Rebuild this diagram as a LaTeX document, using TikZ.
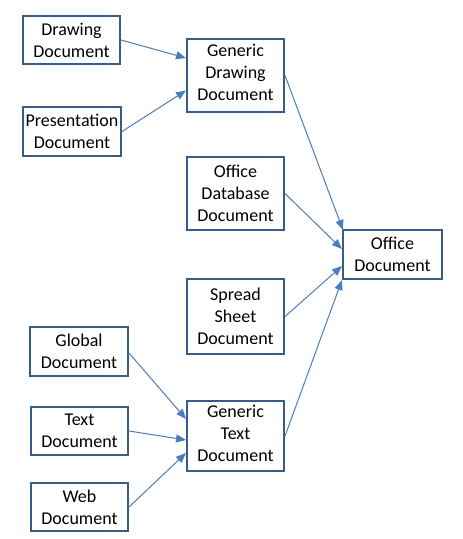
\documentclass[tikz,border=0pt]{standalone}
\usepackage{fontspec}
\setmainfont{Carlito}
\usetikzlibrary{arrows.meta}
\definecolor{boxline}{HTML}{385D8A}
\definecolor{arrline}{HTML}{4A7EBB}
\begin{document}
\begin{tikzpicture}[x=1bp,y=-1bp,
  doc/.style={draw=boxline,line width=2bp,rectangle,inner sep=0pt,align=center,
    font=\fontsize{18bp}{22bp}\selectfont,text=black},
  link/.style={draw=arrline,line width=1bp,-{Triangle[length=10bp,width=8bp]}}]
\fill[white] (0,0) rectangle (463,539);
\useasboundingbox (0,0) rectangle (463,539);
\node[doc,minimum width=97bp,minimum height=48bp] (dd) at (71.5,40) {Drawing\\Document};
\node[doc,minimum width=98bp,minimum height=49bp] (pd) at (72,131.5) {Presentation\\Document};
\node[doc,minimum width=97bp,minimum height=73bp,text depth=7bp] (gd) at (235.5,75.5) {Generic\\Drawing\\Document};
\node[doc,minimum width=97bp,minimum height=73bp] (db) at (235.5,193.5) {Office\\Database\\Document};
\node[doc,minimum width=97bp,minimum height=75bp] (ss) at (235.5,316.5) {Spread\\Sheet\\Document};
\node[doc,minimum width=99bp,minimum height=49bp] (od) at (392.5,254.5) {Office\\Document};
\node[doc,minimum width=98bp,minimum height=49bp] (gl) at (79,351.5) {Global\\Document};
\node[doc,minimum width=97bp,minimum height=48bp] (tx) at (79.5,431) {Text\\Document};
\node[doc,minimum width=97bp,minimum height=48bp] (wb) at (79.5,507) {Web\\Document};
\node[doc,minimum width=97bp,minimum height=70bp,text depth=5bp] (gt) at (235.5,436) {Generic\\Text\\Document};
\draw[link] (dd.east) -- ([yshift=17.5bp]gd.west);
\draw[link] (pd.east) -- ([yshift=-15bp]gd.west);
\draw[link] (gd.east) -- ([xshift=1bp,yshift=-1bp]od.north west);
\draw[link] (db.east) -- ([yshift=5.5bp]od.west);
\draw[link] (ss.east) -- ([yshift=-11.5bp]od.west);
\draw[link] (gt.east) -- ([yshift=0bp]od.south west);
\draw[link] ([yshift=-1.5bp]gl.east) -- ([yshift=17bp]gt.west);
\draw[link] (tx.east) -- ([yshift=-4bp]gt.west);
\draw[link] (wb.east) -- ([yshift=-17bp]gt.west);
\end{tikzpicture}
\end{document}
